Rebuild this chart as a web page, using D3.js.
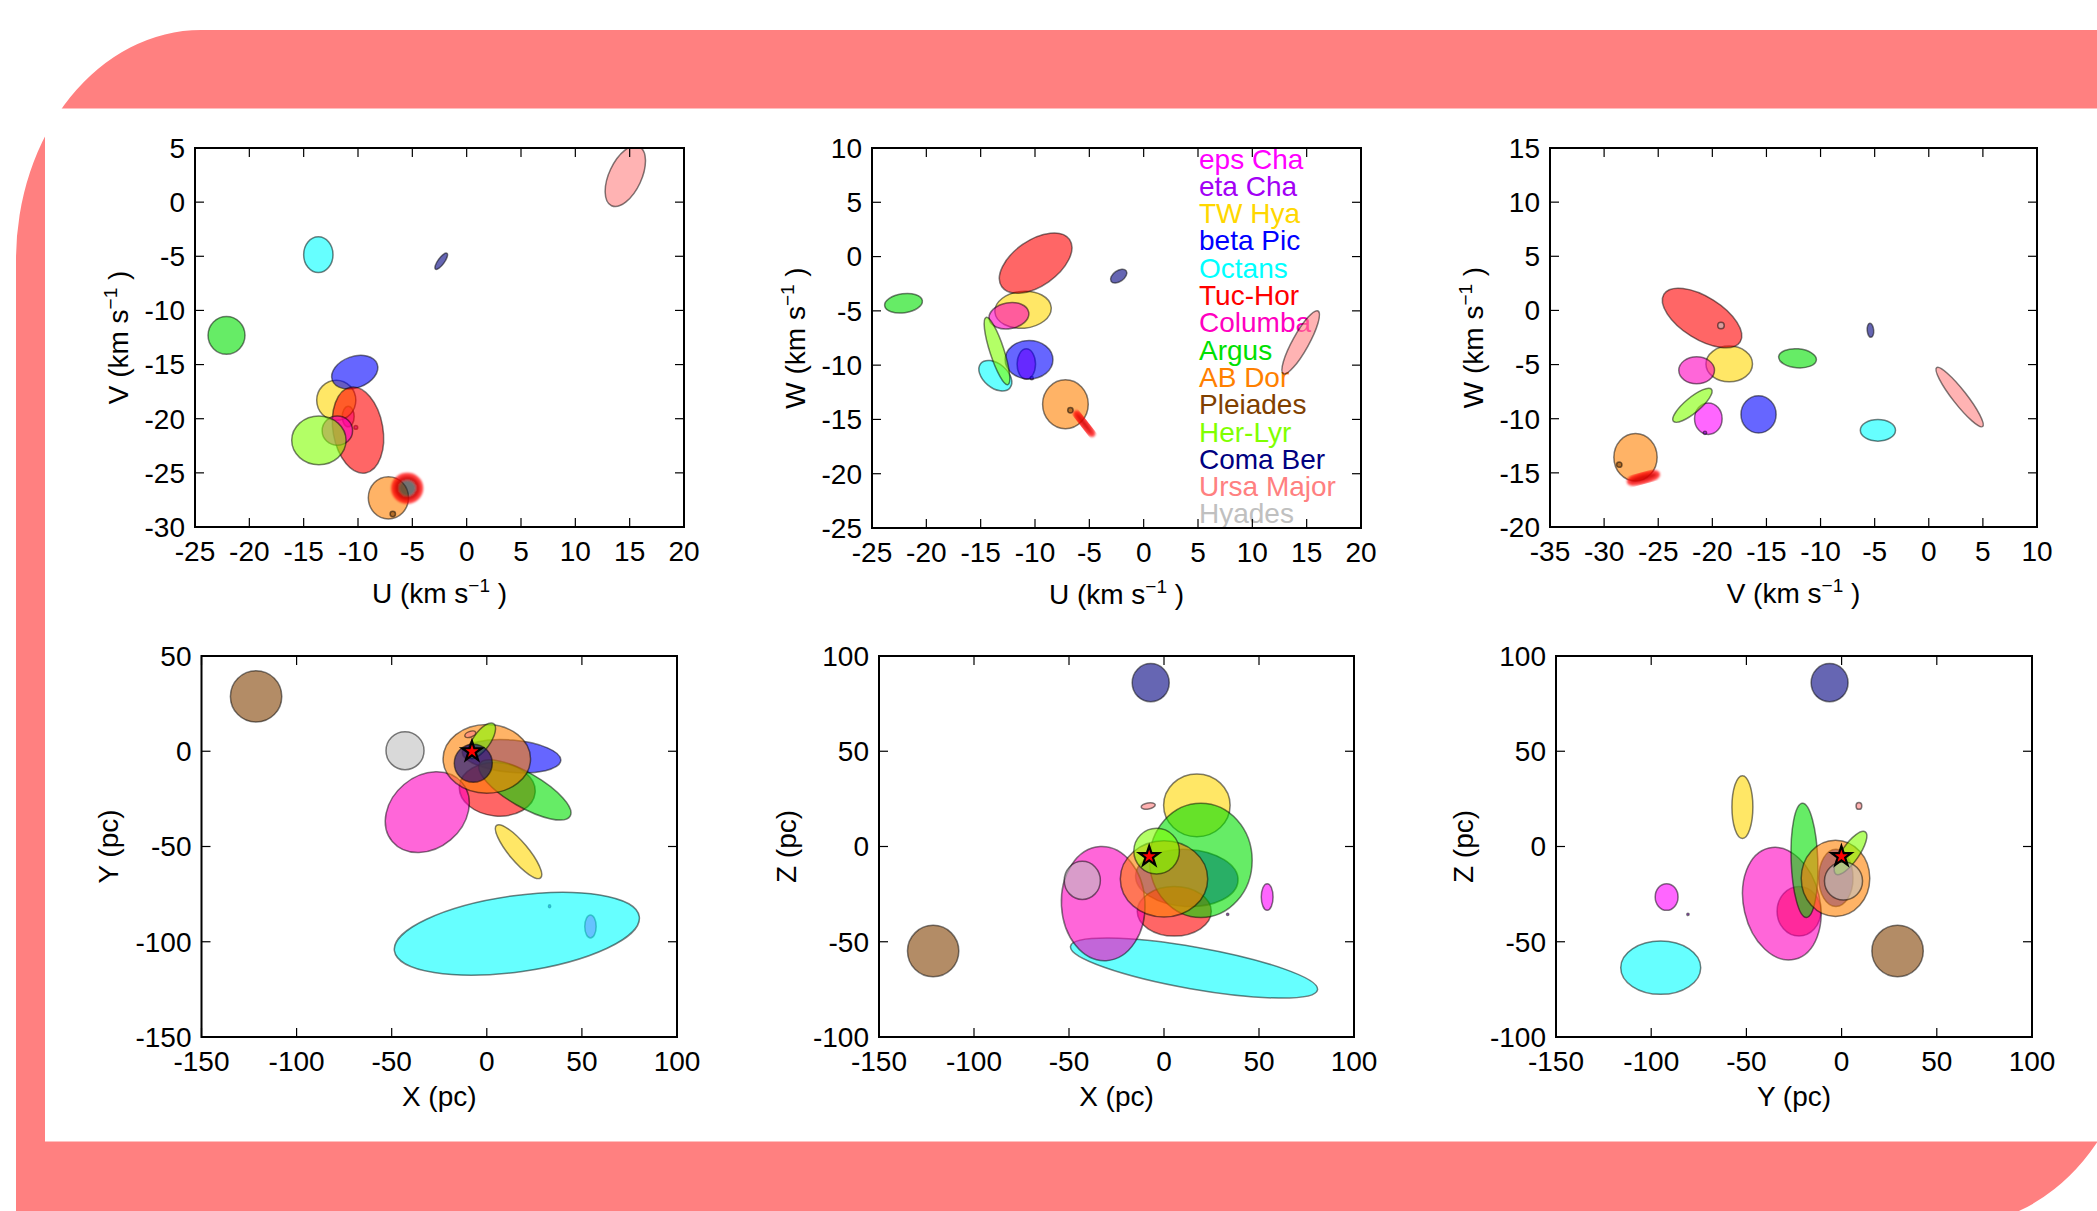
<!DOCTYPE html>
<html>
<head>
<meta charset="utf-8">
<script src="https://cdn.jsdelivr.net/npm/d3@7"></script>
<style>
  html, body { margin: 0; padding: 0; background: #fff; }
  svg { display: block; }
  text { font-family: "Liberation Sans", Arial, Helvetica, sans-serif; }
</style>
</head>
<body>
<svg id="mainChart" width="2097" height="1211"></svg>
<script>
const groups = ['eps Cha', 'eta Cha', 'TW Hya', 'beta Pic', 'Octans', 'Tuc-Hor', 'Columba',
  'Argus', 'AB Dor', 'Pleiades', 'Her-Lyr', 'Coma Ber', 'Ursa Major', 'Hyades'];

const groupColors = ['#ff00ff', '#a200f5', '#ffd700', '#0000ff', '#00ffff', '#ff0000', '#ff00c0',
  '#00e000', '#ff8000', '#804000', '#80ff00', '#000080', '#ff8080', '#c0c0c0'];

// ellipses per group: [centre x, centre y, width, height, angle in degrees]
const uvEllipses = [
  [-10.9, -19.8, 1.1, 1.9, 0],
  [-10.2, -20.8, 0.35, 0.35, 0],
  [-12.0, -18.3, 3.6, 3.7, 0],
  [-10.3, -15.7, 4.4, 2.9, 20],
  [-13.65, -4.85, 2.7, 3.3, 0],
  [-10.0, -21.05, 8.0, 4.6, 100],
  [-11.9, -21.1, 2.8, 2.7, 0],
  [-22.1, -12.3, 3.4, 3.5, 0],
  [-7.2, -27.3, 3.7, 3.9, 0],
  [-6.8, -28.8, 0.5, 0.5, 0],
  [-13.6, -22.0, 5.0, 4.5, 0],
  [-2.34, -5.46, 1.8, 0.6, 54],
  [14.6, 2.4, 6.0, 3.0, 65],
  [-41.1, -19.2, 0.6, 0.6, 0]
];

const uwEllipses = [
  [-10.8, -9.9, 1.7, 2.8, 0],
  [-10.3, -11.2, 0.3, 0.3, 0],
  [-11.1, -4.9, 5.2, 3.4, 5],
  [-10.55, -9.5, 4.4, 3.55, 0],
  [-13.65, -10.97, 3.5, 2.2, -40],
  [-9.94, -0.6, 7.6, 4.2, 35],
  [-12.4, -5.45, 3.7, 2.4, 10],
  [-22.1, -4.3, 3.5, 1.75, 8],
  [-7.2, -13.6, 4.2, 4.5, 0],
  [-6.74, -14.16, 0.5, 0.5, 0],
  [-13.5, -8.7, 6.5, 1.3, 108],
  [-2.3, -1.8, 1.7, 1.0, 35],
  [14.45, -7.9, 6.6, 1.5, 61],
  [-41.1, -1.4, 0.6, 0.6, 0]
];

const vwEllipses = [
  [-20.37, -10.0, 2.55, 2.9, 0],
  [-20.68, -11.3, 0.3, 0.3, 0],
  [-18.44, -4.94, 4.3, 3.3, 0],
  [-15.73, -9.6, 3.25, 3.45, 0],
  [-4.7, -11.07, 3.25, 2.0, 0],
  [-20.95, -0.7, 8.3, 3.9, -32],
  [-21.45, -5.53, 3.3, 2.5, 0],
  [-12.13, -4.42, 3.5, 1.75, -5],
  [-27.1, -13.56, 4.0, 4.4, 0],
  [-28.6, -14.24, 0.5, 0.5, 0],
  [-21.84, -8.76, 4.6, 1.4, 40],
  [-5.39, -1.84, 0.6, 1.3, 5],
  [2.85, -8.0, 6.9, 1.3, -52],
  [-19.2, -1.4, 0.6, 0.6, 0]
];

const xyEllipses = [
  [54.5, -92, 6, 12, 0],
  [33, -81.4, 1.2, 1.6, 0],
  [16.7, -52.7, 36, 10, -50],
  [13, -2.6, 52, 17, -5],
  [15.8, -95.8, 130, 40, 8],
  [5.5, -20, 40, 28, -5],
  [-31.3, -32, 48, 38, 40],
  [20, -20.3, 55, 18, -30],
  [0, -4, 46, 36, 0],
  [-121.3, 28.8, 27, 27, 0],
  [-2.7, 5.5, 22, 9, 55],
  [-7.1, -6.3, 20, 20, 0],
  [-8.7, 8.9, 6, 3, 20],
  [-43, 0.3, 20, 20, 0]
];

const xzEllipses = [
  [54.3, -26.5, 6.2, 14, 0],
  [33.5, -35.6, 1.2, 1.2, 0],
  [17.3, 21.6, 35, 33, 0],
  [12, -16.5, 54, 30, -3],
  [15.8, -63.8, 132, 22, -10],
  [5.4, -34, 39, 26, 0],
  [-32, -30, 44, 60, 3],
  [19.4, -7.3, 54, 60, 0],
  [0, -17, 46, 40, 0],
  [-121.5, -54.9, 27, 27, 0],
  [-3.9, -2.4, 24, 24, 0],
  [-7, 86, 19.5, 20, 0],
  [-8.3, 21.3, 7.5, 3.2, 10],
  [-43, -17.8, 19, 20, 0]
];

const yzEllipses = [
  [-91.9, -26.5, 12, 14, 0],
  [-80.7, -35.6, 1.2, 1.2, 0],
  [-52.1, 20.7, 11, 33, 0],
  [-3, -16.5, 18, 30, 0],
  [-95, -63.6, 42, 28, 0],
  [-22.4, -34, 23, 26, 0],
  [-31.4, -30, 60, 40, 103],
  [-19.5, -7.3, 14, 60, 2],
  [-3.2, -16.7, 36, 40, 0],
  [29.4, -54.9, 27, 27, 0],
  [4.7, -3.4, 27, 9, 55],
  [-6.3, 86, 19.4, 20, 0],
  [9.1, 21.3, 3, 3.6, 0],
  [1, -18.1, 20, 20, 0]
];

// the target star: velocity ellipses and position
const targetUV = [-5.47, -26.42, 2.3, 2.2, 0];
const targetUW = [-5.47, -15.4, 2.3, 0.35, -52];
const targetVW = [-26.37, -15.47, 2.5, 0.5, 15];
const targetXYZ = [-7.8, -0.1, -5.2];

const uTicks = [-25, -20, -15, -10, -5, 0, 5, 10, 15, 20];
const vTicks = [-35, -30, -25, -20, -15, -10, -5, 0, 5, 10];
const vAxisTicks = [-30, -25, -20, -15, -10, -5, 0, 5];
const wTicksUW = [-25, -20, -15, -10, -5, 0, 5, 10];
const wTicksVW = [-20, -15, -10, -5, 0, 5, 10, 15];
const pcTicks = [-150, -100, -50, 0, 50, 100];
const yPcTicks = [-150, -100, -50, 0, 50];
const zPcTicks = [-100, -50, 0, 50, 100];

let svg = d3.select('#mainChart');

// pink frame behind the figure
svg.append('path')
  .attr('d', 'M16,260 A185,230 0 0 1 201,30 L2140,30 L2140,995 A185,230 0 0 1 1948,1225 L16,1225 Z')
  .attr('fill', '#ff8080');

svg.append('rect')
  .attr('x', 45)
  .attr('y', 108.5)
  .attr('width', 2100)
  .attr('height', 1033)
  .attr('fill', '#fff');

let defs = svg.append('defs');
defs.append('filter')
  .attr('id', 'soft')
  .attr('x', '-50%').attr('y', '-50%').attr('width', '200%').attr('height', '200%')
  .append('feGaussianBlur')
  .attr('stdDeviation', 1.2);

const panels = [
  { box: [195, 148, 684, 527], xDom: [-25, 20], yDom: [-30, 5], xTicks: uTicks, yTicks: vAxisTicks,
    xLabel: 'U', yLabel: 'V', vel: true, ell: uvEllipses, target: targetUV },
  { box: [872, 148, 1361, 528], xDom: [-25, 20], yDom: [-25, 10], xTicks: uTicks, yTicks: wTicksUW,
    xLabel: 'U', yLabel: 'W', vel: true, ell: uwEllipses, target: targetUW, legend: true },
  { box: [1550, 148, 2037, 527], xDom: [-35, 10], yDom: [-20, 15], xTicks: vTicks, yTicks: wTicksVW,
    xLabel: 'V', yLabel: 'W', vel: true, ell: vwEllipses, target: targetVW },
  { box: [201.5, 656, 677, 1037], xDom: [-150, 100], yDom: [-150, 50], xTicks: pcTicks, yTicks: yPcTicks,
    xLabel: 'X (pc)', yLabel: 'Y (pc)', ell: xyEllipses, star: [targetXYZ[0], targetXYZ[1]] },
  { box: [879, 656, 1354, 1037], xDom: [-150, 100], yDom: [-100, 100], xTicks: pcTicks, yTicks: zPcTicks,
    xLabel: 'X (pc)', yLabel: 'Z (pc)', ell: xzEllipses, star: [targetXYZ[0], targetXYZ[2]] },
  { box: [1556, 656, 2032, 1037], xDom: [-150, 100], yDom: [-100, 100], xTicks: pcTicks, yTicks: zPcTicks,
    xLabel: 'Y (pc)', yLabel: 'Z (pc)', ell: yzEllipses, star: [targetXYZ[1], targetXYZ[2]] }
];

panels.forEach((p, i) => buildPanel(p, i));

function ellipseAttrs(sel, x, y) {
  sel.attr('cx', 0)
    .attr('cy', 0)
    .attr('rx', d => Math.abs(x(d.e[0] + d.e[2] / 2) - x(d.e[0])))
    .attr('ry', d => Math.abs(y(d.e[1] + d.e[3] / 2) - y(d.e[1])))
    .attr('transform', d => `translate(${x(d.e[0])},${y(d.e[1])}) rotate(${-d.e[4]})`);
}

function addLabel(sel, label, vel) {
  sel.text(null);
  if (!vel) {
    sel.text(label);
    return;
  }
  sel.append('tspan').text(label + ' (km s');
  sel.append('tspan').attr('dy', -11).style('font-size', '19px').text('\u22121');
  sel.append('tspan').attr('dy', 11).text(' )');
}

function buildPanel(p, idx) {
  let [x0, y0, x1, y1] = p.box;

  let x = d3.scaleLinear().domain(p.xDom).range([x0, x1]);
  let y = d3.scaleLinear().domain(p.yDom).range([y1, y0]);

  let g = svg.append('g').attr('class', 'panel');

  defs.append('clipPath')
    .attr('id', 'clip' + idx)
    .append('rect')
    .attr('x', x0).attr('y', y0)
    .attr('width', x1 - x0).attr('height', y1 - y0);

  // group names in the middle top panel, drawn under the ellipses
  if (p.legend) {
    g.append('g')
      .selectAll('text')
      .data(groups)
      .enter()
      .append('text')
      .attr('x', 1199)
      .attr('y', (d, i) => 168.5 + i * 27.3)
      .style('font-size', '28px')
      .attr('fill', (d, i) => groupColors[i])
      .text(d => d);
  }

  let plot = g.append('g').attr('clip-path', `url(#clip${idx})`);

  let data = p.ell.map((e, i) => ({ e: e, color: groupColors[i], name: groups[i] }));

  plot.selectAll('ellipse.group')
    .data(data)
    .enter()
    .append('ellipse')
    .attr('class', 'group')
    .call(ellipseAttrs, x, y)
    .attr('fill', d => d.color)
    .attr('fill-opacity', 0.6)
    .attr('stroke', '#000')
    .attr('stroke-opacity', 0.5)
    .attr('stroke-width', 1.5);

  if (p.target) {
    plot.append('ellipse')
      .datum({ e: p.target })
      .call(ellipseAttrs, x, y)
      .attr('fill', '#222')
      .attr('fill-opacity', 0.65)
      .attr('stroke', '#ff0000')
      .attr('stroke-opacity', 0.75)
      .attr('stroke-width', 7)
      .attr('filter', 'url(#soft)');
  }

  if (p.star) {
    plot.append('path')
      .attr('d', d3.symbol(d3.symbolStar).size(120)())
      .attr('transform', `translate(${x(p.star[0])},${y(p.star[1])})`)
      .attr('fill', '#ff0000')
      .attr('stroke', '#000')
      .attr('stroke-width', 2.2)
      .attr('stroke-linejoin', 'miter');
  }

  // ticks on all four sides, pointing in
  let ticks = g.append('g').attr('stroke', '#000').attr('stroke-width', 1.2);
  const tl = 9;

  p.xTicks.forEach(t => {
    ticks.append('line').attr('x1', x(t)).attr('x2', x(t)).attr('y1', y1).attr('y2', y1 - tl);
    ticks.append('line').attr('x1', x(t)).attr('x2', x(t)).attr('y1', y0).attr('y2', y0 + tl);
  });
  p.yTicks.forEach(t => {
    ticks.append('line').attr('y1', y(t)).attr('y2', y(t)).attr('x1', x0).attr('x2', x0 + tl);
    ticks.append('line').attr('y1', y(t)).attr('y2', y(t)).attr('x1', x1).attr('x2', x1 - tl);
  });

  g.append('rect')
    .attr('x', x0).attr('y', y0)
    .attr('width', x1 - x0).attr('height', y1 - y0)
    .attr('fill', 'none')
    .attr('stroke', '#000')
    .attr('stroke-width', 2);

  g.append('g')
    .selectAll('text')
    .data(p.xTicks)
    .enter()
    .append('text')
    .attr('x', d => x(d))
    .attr('y', y1 + 33.5)
    .attr('text-anchor', 'middle')
    .style('font-size', '28px')
    .text(d => String(d));

  let yt = g.append('g');
  yt.selectAll('text')
    .data(p.yTicks)
    .enter()
    .append('text')
    .attr('x', x0 - 10)
    .attr('y', d => y(d))
    .attr('dy', '0.35em')
    .attr('text-anchor', 'end')
    .style('font-size', '28px')
    .text(d => String(d));

  let bb = yt.node().getBBox();
  let cx = (x0 + x1) / 2, cy = (y0 + y1) / 2;

  g.append('text')
    .attr('x', cx)
    .attr('y', y1 + (p.vel ? 76 : 69))
    .attr('text-anchor', 'middle')
    .style('font-size', '28px')
    .call(addLabel, p.xLabel, p.vel);

  g.append('text')
    .attr('transform', `translate(${bb.x - 17},${cy}) rotate(-90)`)
    .attr('text-anchor', 'middle')
    .style('font-size', '28px')
    .call(addLabel, p.yLabel, p.vel);
}
</script>
</body>
</html>
